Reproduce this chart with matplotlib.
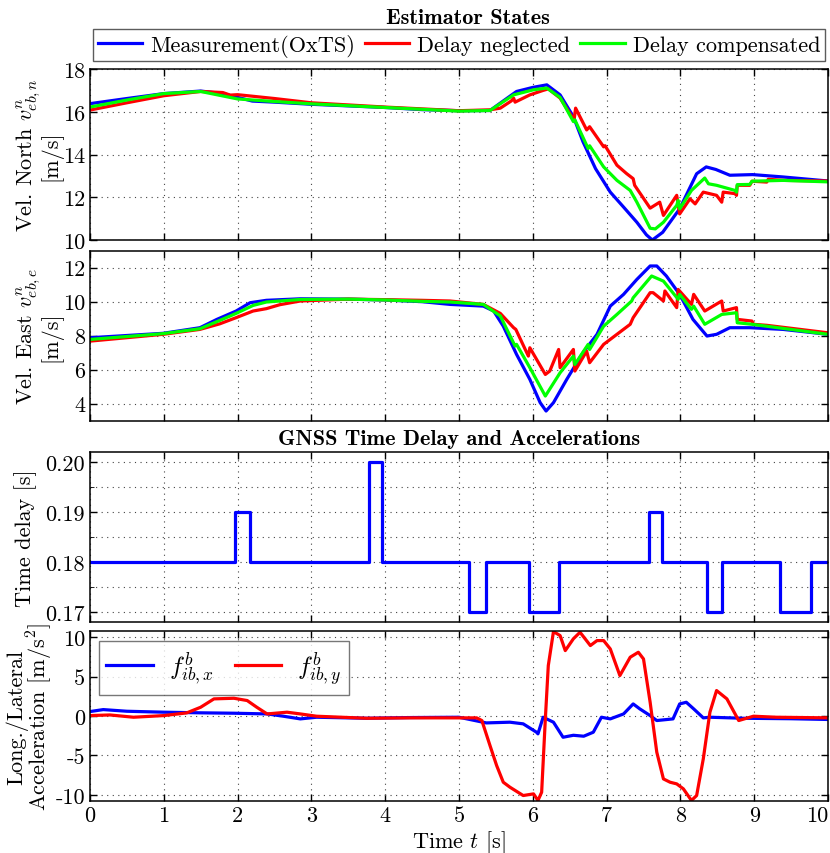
import matplotlib
matplotlib.use("Agg")
import matplotlib.pyplot as plt
import numpy as np

plt.rcParams['font.family'] = ['cmr10', 'DejaVu Serif']
plt.rcParams['mathtext.fontset'] = 'cm'
plt.rcParams['axes.unicode_minus'] = False
plt.rcParams['axes.formatter.use_mathtext'] = False

# --- panel 1: north velocity [m/s] ---
n_meas_t = [0, 0.5, 1.0, 1.5, 1.8, 2.2, 2.5, 3.0, 4.0, 4.5, 5.0, 5.42, 5.78, 6.0, 6.19, 6.37,
            6.55, 6.68, 6.85, 7.05, 7.23, 7.41, 7.54, 7.62, 7.76, 7.99, 8.22, 8.35, 8.48, 8.67,
            8.98, 9.39, 10.0]
n_meas_v = [16.38, 16.62, 16.85, 16.97, 16.85, 16.5, 16.45, 16.35, 16.2, 16.1, 16.05, 16.06, 16.95,
            17.14, 17.26, 16.79, 15.77, 14.6, 13.34, 12.24, 11.54, 10.83, 10.24, 10.0, 10.36, 11.46,
            13.1, 13.42, 13.3, 13.03, 13.06, 12.95, 12.76]
n_negl_t = [0, 0.5, 1.0, 1.5, 1.8, 1.9, 2.0, 2.5, 3.0, 4.0, 5.0, 5.42, 5.56, 5.71, 5.74, 5.76,
            5.96, 6.14, 6.21, 6.37, 6.50, 6.56, 6.58, 6.73, 6.77, 6.96, 6.98, 7.14, 7.27, 7.36,
            7.38, 7.59, 7.72, 7.77, 7.95, 7.99, 8.13, 8.20, 8.31, 8.49, 8.56, 8.58, 8.74, 8.76,
            8.77, 8.94, 8.97, 9.17, 9.19, 9.39, 10.0]
n_negl_v = [16.08, 16.42, 16.75, 16.95, 16.9, 16.78, 16.8, 16.62, 16.42, 16.22, 16.05, 16.09, 16.17,
            16.51, 16.64, 16.45, 16.79, 17.0, 17.07, 16.64, 15.93, 15.62, 16.17, 15.15, 15.3,
            14.36, 14.41, 13.5, 13.11, 12.87, 12.56, 11.49, 11.77, 11.15, 12.09, 11.22, 11.93,
            11.69, 12.24, 12.09, 11.77, 12.24, 12.17, 12.09, 12.56, 12.56, 12.75, 12.71, 12.84,
            12.79, 12.76]
n_comp_t = [0, 0.5, 1.0, 1.5, 2.0, 2.5, 3.0, 4.0, 5.0, 5.42, 5.74, 6.01, 6.19, 6.37, 6.55, 6.57,
            6.75, 6.77, 6.96, 7.14, 7.32, 7.41, 7.59, 7.66, 7.77, 7.95, 7.97, 7.99, 8.15, 8.33,
            8.38, 8.49, 8.74, 8.76, 8.77, 8.94, 8.97, 9.39, 10.0]
n_comp_v = [16.22, 16.55, 16.85, 16.95, 16.6, 16.48, 16.37, 16.2, 16.03, 16.06, 16.79, 17.03,
            17.11, 16.67, 15.54, 15.62, 14.28, 14.41, 13.42, 12.79, 12.32, 11.77, 10.55, 10.52,
            10.83, 11.62, 11.85, 11.46, 12.32, 12.9, 12.63, 12.56, 12.32, 12.24, 12.59, 12.6,
            12.75, 12.79, 12.72]

# --- panel 2: east velocity [m/s] ---
e_meas_t = [0, 0.99, 1.49, 1.72, 1.98, 2.17, 2.39, 2.85, 3.5, 4.0, 4.5, 4.88, 5.33, 5.47, 5.60,
            5.78, 5.96, 6.10, 6.18, 6.28, 6.46, 6.68, 6.87, 7.05, 7.23, 7.41, 7.59, 7.68, 7.81,
            7.99, 8.17, 8.36, 8.49, 8.67, 8.94, 9.39, 10.0]
e_meas_v = [7.88, 8.14, 8.47, 8.96, 9.45, 9.94, 10.08, 10.17, 10.15, 10.1, 10.0, 9.84, 9.74, 9.45,
            8.56, 6.9, 5.43, 4.06, 3.57, 4.06, 5.43, 7.0, 8.08, 9.74, 10.43, 11.31, 12.1, 12.1,
            11.51, 10.43, 8.96, 7.98, 8.08, 8.47, 8.47, 8.37, 8.08]
e_negl_t = [0, 0.99, 1.49, 1.76, 1.98, 2.21, 2.39, 2.57, 2.85, 3.5, 4.0, 4.5, 4.88, 5.33, 5.56,
            5.74, 5.77, 5.94, 5.96, 6.17, 6.23, 6.35, 6.37, 6.55, 6.57, 6.73, 6.77, 6.96, 7.14,
            7.32, 7.36, 7.59, 7.63, 7.77, 7.79, 7.95, 7.97, 8.15, 8.18, 8.33, 8.56, 8.58, 8.76,
            8.77, 8.97, 8.99, 9.17, 10.0]
e_negl_v = [7.68, 8.08, 8.37, 8.7, 9.06, 9.45, 9.59, 9.82, 10.04, 10.15, 10.12, 10.08, 10.04, 9.84,
            9.31, 8.47, 8.37, 6.8, 7.29, 5.72, 5.92, 7.19, 6.12, 7.19, 5.92, 7.09, 6.41, 7.49,
            8.08, 8.67, 9.06, 10.53, 10.53, 10.04, 10.63, 9.65, 10.72, 9.84, 10.43, 9.45, 10.04,
            9.45, 9.65, 8.96, 8.86, 8.67, 8.61, 8.17]
e_comp_t = [0, 0.99, 1.49, 1.76, 1.98, 2.21, 2.39, 2.85, 3.5, 4.0, 4.5, 4.88, 5.33, 5.56, 5.76,
            5.78, 5.96, 6.17, 6.37, 6.55, 6.57, 6.75, 6.77, 6.96, 7.14, 7.34, 7.36, 7.61, 7.77,
            7.97, 7.99, 8.15, 8.18, 8.33, 8.56, 8.76, 8.77, 8.97, 10.0]
e_comp_v = [7.78, 8.12, 8.41, 8.9, 9.31, 9.78, 9.98, 10.13, 10.15, 10.1, 10.02, 9.98, 9.84, 9.16,
            7.39, 7.49, 6.12, 4.45, 5.82, 6.8, 6.31, 7.49, 7.19, 8.56, 9.25, 10.04, 10.23, 11.51,
            11.21, 10.14, 10.43, 9.55, 9.74, 8.67, 9.25, 9.35, 8.76, 8.67, 8.08]

# --- panel 3: GNSS time delay [s] (step changes) ---
delay_t = [0, 1.96, 2.17, 3.78, 3.96, 5.14, 5.37, 5.95, 6.36, 7.57, 7.75, 8.36, 8.56, 9.35, 9.77, 10.0]
delay_v = [0.18, 0.19, 0.18, 0.20, 0.18, 0.17, 0.18, 0.17, 0.18, 0.19, 0.18, 0.17, 0.18, 0.17, 0.18, 0.18]

# --- panel 4: accelerations [m/s^2] ---
fx_t = [0, 0.18, 0.5, 1.0, 1.5, 1.95, 2.4, 2.62, 2.85, 3.07, 3.75, 4.34, 5.0, 5.37, 5.69, 5.87,
        6.05, 6.07, 6.14, 6.28, 6.41, 6.55, 6.69, 6.82, 6.93, 7.05, 7.23, 7.36, 7.45, 7.59, 7.68,
        7.9, 7.99, 8.08, 8.18, 8.31, 8.4, 8.85, 9.5, 10.03]
fx_v = [0.56, 0.81, 0.6, 0.48, 0.4, 0.35, 0.26, -0.03, -0.37, -0.16, -0.29, -0.2, -0.16, -0.88,
        -0.79, -1.0, -2.06, -2.27, -0.16, -0.79, -2.7, -2.45, -2.57, -2.06, -0.16, -0.37, 0.26,
        1.53, 0.9, 0.05, -0.58, -0.37, 1.53, 1.74, 0.9, -0.24, -0.16, -0.29, -0.35, -0.45]
fy_t = [0, 0.27, 0.59, 1.0, 1.31, 1.5, 1.68, 1.95, 2.13, 2.26, 2.4, 2.67, 2.85, 3.07, 3.75, 4.34,
        5.24, 5.31, 5.42, 5.51, 5.6, 5.69, 5.87, 6.01, 6.07, 6.12, 6.17, 6.21, 6.28, 6.37, 6.44,
        6.55, 6.64, 6.78, 6.87, 6.96, 7.05, 7.18, 7.32, 7.43, 7.5, 7.59, 7.68, 7.77, 7.86, 7.95,
        8.04, 8.15, 8.22, 8.31, 8.4, 8.49, 8.63, 8.79, 8.99, 9.3, 10.03]
fy_v = [0.05, 0.13, -0.16, 0.05, 0.39, 1.11, 2.17, 2.25, 1.96, 1.11, 0.26, 0.48, 0.26, -0.03,
        -0.29, -0.24, -0.24, -0.58, -3.75, -6.29, -8.41, -9.04, -10.1, -9.89, -10.73, -9.68,
        -0.37, 6.4, 10.71, 10.21, 8.3, 9.8, 10.63, 8.94, 9.57, 9.57, 8.51, 5.13, 7.46, 8.09,
        7.24, 1.74, -4.6, -7.99, -8.41, -8.62, -9.25, -10.73, -10.1, -5.45, 0.48, 3.23, 2.17,
        -0.58, -0.03, -0.16, -0.24]

FS = 16
LW = 2.3
BLUE, RED, GREEN = '#0000ff', '#ff0000', '#00ff00'

fig = plt.figure(figsize=(8.3, 8.54), dpi=100)
L, W = 0.1084, 0.8892
ax1 = fig.add_axes([L, 0.7178, W, 0.2002])
ax2 = fig.add_axes([L, 0.5062, W, 0.1991])
ax3 = fig.add_axes([L, 0.2701, W, 0.1991])
ax4 = fig.add_axes([L, 0.0613, W, 0.1983])


def style(ax):
    ax.set_xlim(0, 10)
    ax.set_xticks(range(11))
    ax.tick_params(direction='in', top=True, right=True, labelsize=FS, length=5, width=1)
    ax.grid(True, which='both', linestyle=(0, (1, 4)), color='#444444', linewidth=0.8)
    for s in ax.spines.values():
        s.set_linewidth(1.1)


l1, = ax1.plot(n_meas_t, n_meas_v, color=BLUE, lw=LW)
l2, = ax1.plot(n_negl_t, n_negl_v, color=RED, lw=LW)
l3, = ax1.plot(n_comp_t, n_comp_v, color=GREEN, lw=LW)
style(ax1)
ax1.set_ylim(10, 18)
ax1.set_yticks([10, 12, 14, 16, 18])
ax1.tick_params(labelbottom=False)
ax1.set_ylabel('Vel. North $v^n_{eb,n}$\n[m/s]', fontsize=FS, labelpad=0, linespacing=0.85)
ax1.legend([l1, l2, l3], ['Measurement(OxTS)', 'Delay neglected', 'Delay compensated'],
           ncol=3, loc='lower center', bbox_to_anchor=(0.5, 1.045), fontsize=FS,
           frameon=True, fancybox=False, edgecolor='#333333', handlelength=2.0,
           handletextpad=0.35, columnspacing=0.45, borderpad=0.2, borderaxespad=0)
fig.text(0.564, 0.978, 'Estimator States', ha='center', va='center',
         fontsize=FS, family='cmb10')

ax2.plot(e_meas_t, e_meas_v, color=BLUE, lw=LW)
ax2.plot(e_negl_t, e_negl_v, color=RED, lw=LW)
ax2.plot(e_comp_t, e_comp_v, color=GREEN, lw=LW)
style(ax2)
ax2.set_ylim(3, 13)
ax2.set_yticks([4, 6, 8, 10, 12])
ax2.tick_params(labelbottom=False)
ax2.set_ylabel('Vel. East $v^n_{eb,e}$\n[m/s]', fontsize=FS, labelpad=0, linespacing=0.85)

ax3.step(delay_t, delay_v, where='post', color=BLUE, lw=LW)
style(ax3)
ax3.set_ylim(0.168, 0.202)
ax3.set_yticks([0.17, 0.18, 0.19, 0.20])
ax3.set_yticklabels(['0.17', '0.18', '0.19', '0.20'])
ax3.set_yticks([0.175, 0.185, 0.195], minor=True)
ax3.tick_params(which='minor', direction='in', right=True, length=3)
ax3.tick_params(labelbottom=False)
ax3.set_ylabel('Time delay [s]', fontsize=FS, labelpad=6)
ax3.set_title('GNSS Time Delay and Accelerations', fontsize=FS, family='cmb10', pad=6)

ax4.plot(fx_t, fx_v, color=BLUE, lw=LW, label='$f^b_{ib,x}$')
ax4.plot(fy_t, fy_v, color=RED, lw=LW, label='$f^b_{ib,y}$')
style(ax4)
ax4.set_ylim(-10.75, 10.75)
ax4.set_yticks([-10, -5, 0, 5, 10])
ax4.set_xticklabels([str(i) for i in range(11)])
ax4.get_xticklabels()[-1].set_horizontalalignment('right')
ax4.set_xlabel('Time $t$ [s]', fontsize=FS, labelpad=2)
ax4.set_ylabel('Long./Lateral\nAcceleration [m/s$^2$]', fontsize=FS, labelpad=0, linespacing=0.85)
ax4.legend(ncol=2, loc='upper left', fontsize=FS + 2, frameon=True, fancybox=False,
           edgecolor='#555555', handlelength=1.85, handletextpad=0.65, columnspacing=0.85,
           borderpad=0.3, bbox_to_anchor=(0.012, 0.94), borderaxespad=0)

fig.savefig('out.png', dpi=100)
